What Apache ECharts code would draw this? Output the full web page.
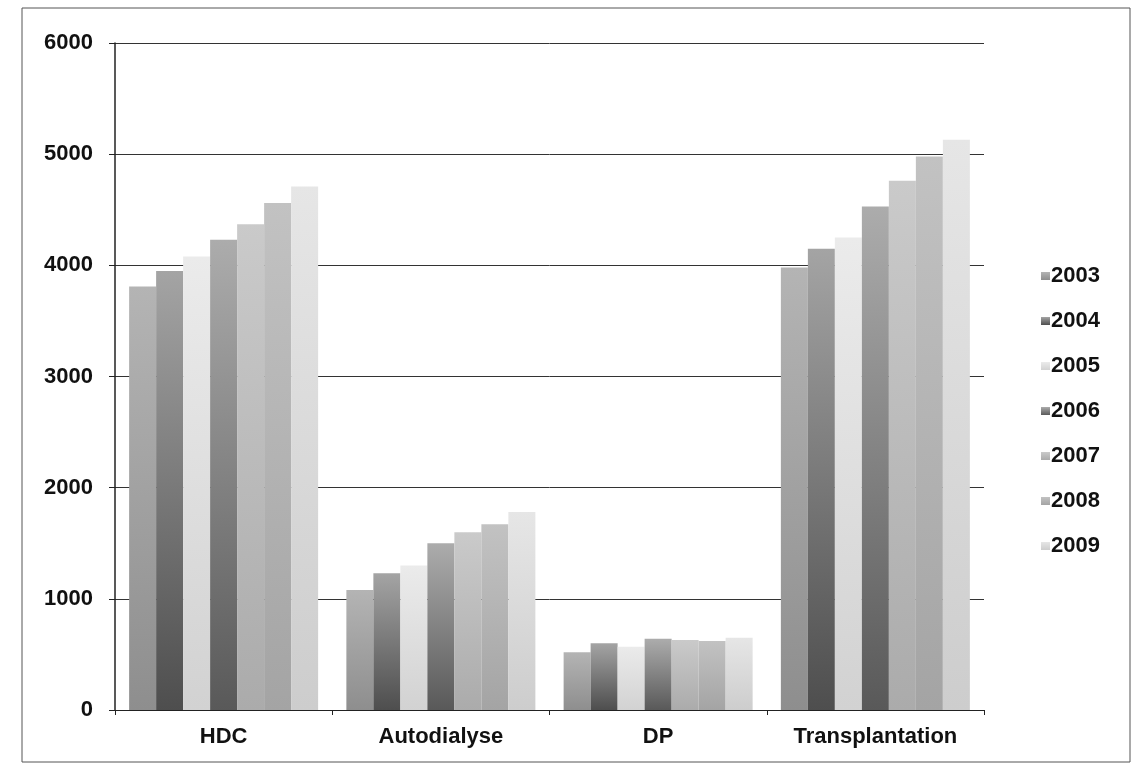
<!DOCTYPE html>
<html>
<head>
<meta charset="utf-8">
<script src="https://cdn.jsdelivr.net/npm/echarts@6/dist/echarts.min.js"></script>
<style>
html,body{margin:0;padding:0;background:#fff;}
#chart{width:1134px;height:778px;}
</style>
</head>
<body>
<div id="chart"></div>
<script>
const categories = ['HDC', 'Autodialyse', 'DP', 'Transplantation'];
const years = ['2003', '2004', '2005', '2006', '2007', '2008', '2009'];
const yTicks = [0, 1000, 2000, 3000, 4000, 5000, 6000];

const v2003 = [3810, 1080, 520, 3980];
const v2004 = [3950, 1230, 600, 4150];
const v2005 = [4080, 1300, 570, 4250];
const v2006 = [4230, 1500, 640, 4530];
const v2007 = [4370, 1600, 630, 4760];
const v2008 = [4560, 1670, 620, 4980];
const v2009 = [4710, 1780, 650, 5130];
const seriesValues = [v2003, v2004, v2005, v2006, v2007, v2008, v2009];

const shades = [
  ['#b4b4b4', '#8e8e8e'],
  ['#a4a4a4', '#4e4e4e'],
  ['#ebebeb', '#d2d2d2'],
  ['#acacac', '#595959'],
  ['#cacaca', '#ababab'],
  ['#c2c2c2', '#a4a4a4'],
  ['#e6e6e6', '#cdcdcd']
];

const chart = echarts.init(document.getElementById('chart'));
const fontFam = '"Liberation Sans", Arial, sans-serif';

const series = years.map((y, i) => ({
  name: y,
  type: 'bar',
  data: seriesValues[i],
  barGap: '0%',
  barCategoryGap: '13%',
  itemStyle: {
    color: new echarts.graphic.LinearGradient(0, 0, 0, 1, [
      {offset: 0, color: shades[i][0]},
      {offset: 1, color: shades[i][1]}
    ])
  }
}));

chart.setOption({
  backgroundColor: '#fff',
  animation: false,
  grid: {left: 115, right: 150, top: 43, bottom: 68},
  legend: {
    orient: 'vertical',
    left: 1036,
    top: 260,
    itemWidth: 9,
    itemHeight: 8,
    itemGap: 23,
    icon: 'rect',
    textStyle: {fontSize: 22, fontWeight: 'bold', color: '#111', fontFamily: fontFam, padding: [0, 0, 0, -4]},
    data: years
  },
  xAxis: {
    type: 'category',
    data: categories,
    axisLine: {lineStyle: {color: '#222', width: 1}},
    axisTick: {show: true, length: 5, lineStyle: {color: '#222'}},
    axisLabel: {fontSize: 22, fontWeight: 'bold', color: '#111', fontFamily: fontFam, margin: 16}
  },
  yAxis: {
    type: 'value',
    min: yTicks[0],
    max: yTicks[yTicks.length - 1],
    interval: 1000,
    axisLine: {show: true, lineStyle: {color: '#222', width: 1.5}},
    axisTick: {show: true, length: 6, lineStyle: {color: '#222'}},
    splitLine: {lineStyle: {color: '#333', width: 1}},
    axisLabel: {fontSize: 22, fontWeight: 'bold', color: '#111', fontFamily: fontFam, margin: 22,
      formatter: v => String(v)}
  },
  graphic: [{
    type: 'rect',
    shape: {x: 22, y: 8, width: 1108, height: 754},
    style: {fill: 'none', stroke: '#555', lineWidth: 1},
    silent: true
  }],
  series: series
});
</script>
</body>
</html>
